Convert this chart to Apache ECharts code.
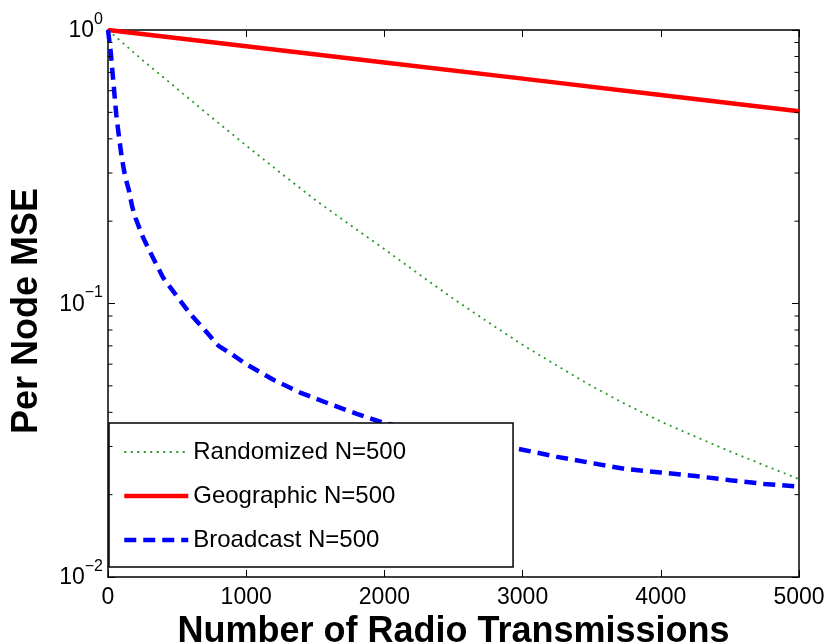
<!DOCTYPE html>
<html>
<head>
<meta charset="utf-8">
<script src="https://cdn.jsdelivr.net/npm/echarts@6/dist/echarts.min.js"></script>
<style>
  html, body { margin: 0; padding: 0; background: #ffffff; }
  #chart { width: 830px; height: 644px; }
</style>
</head>
<body>
<div id="chart"></div>
<script>
// Axis ticks
const xTicks = [0, 1000, 2000, 3000, 4000, 5000];
const yDecades = [0.01, 0.1, 1];

// Series names
const seriesNames = ['Randomized N=500', 'Geographic N=500', 'Broadcast N=500'];

// Randomized gossip: per-node MSE vs number of radio transmissions
const xRandomized = [0, 250, 500, 750, 1000, 1250, 1500, 1750, 2000, 2250, 2500,
                     2750, 3000, 3250, 3500, 3750, 4000, 4250, 4500, 4750, 5000];
const randomized = [1.0, 0.776, 0.61, 0.479, 0.378, 0.30, 0.239, 0.194, 0.158, 0.128, 0.104,
                    0.0855, 0.0706, 0.0592, 0.0499, 0.0427, 0.0370, 0.0326, 0.0288, 0.0256, 0.0228];

// Geographic gossip
const xGeographic = [0, 1000, 2000, 3000, 4000, 5000];
const geographic = [1.0, 0.872, 0.761, 0.664, 0.579, 0.505];

// Broadcast gossip
const xBroadcast = [0, 20, 40, 60, 80, 100, 125, 150, 175, 200, 250, 300, 350, 400, 500,
                    600, 700, 800, 900, 1000, 1200, 1400, 1600, 1800, 2000, 2250, 2500,
                    2750, 3000, 3250, 3500, 3750, 4000, 4250, 4500, 4750, 5000];
const broadcast = [1.0, 0.83, 0.635, 0.49, 0.405, 0.34, 0.29, 0.261, 0.226, 0.205, 0.176,
                   0.156, 0.139, 0.124, 0.106, 0.091, 0.080, 0.070, 0.065, 0.060, 0.0525,
                   0.047, 0.043, 0.0395, 0.0365, 0.0345, 0.0325, 0.031, 0.0292, 0.0275,
                   0.0261, 0.0248, 0.0241, 0.0234, 0.0226, 0.0219, 0.0214];

const FONT = '"Liberation Sans", Arial, Helvetica, sans-serif';
const pairs = (xs, ys) => xs.map((x, i) => [x, ys[i]]);

const chart = echarts.init(document.getElementById('chart'), null, { renderer: 'canvas' });

const axisLine = { show: true, onZero: false, lineStyle: { color: '#000', width: 1.5 } };
const tickIn = { show: true, inside: true, length: 7, lineStyle: { color: '#000', width: 1 } };

const option = {
  animation: false,
  backgroundColor: '#ffffff',
  grid: { left: 108, right: 31, top: 30, bottom: 67, containLabel: false, outerBoundsMode: 'none' },
  xAxis: [
    {
      type: 'value', min: 0, max: 5000, interval: 1000, position: 'bottom',
      axisLine, axisTick: tickIn, splitLine: { show: false },
      axisLabel: { fontSize: 23, color: '#000', fontFamily: FONT, margin: 9, formatter: (v) => String(v) },
      name: 'Number of Radio Transmissions', nameLocation: 'middle', nameGap: 32,
      nameTextStyle: { fontSize: 36, fontWeight: 'bold', color: '#000', fontFamily: FONT }
    },
    {
      type: 'value', min: 0, max: 5000, interval: 1000, position: 'top',
      axisLine, axisTick: tickIn, splitLine: { show: false },
      axisLabel: { show: false }
    }
  ],
  yAxis: [
    {
      type: 'log', logBase: 10, min: 0.01, max: 1, position: 'left',
      axisLine, axisTick: tickIn, splitLine: { show: false }, minorTick: { show: false },
      axisLabel: {
        margin: 5,
        padding: [0, 0, 6, 0],
        formatter: (v) => {
          const e = Math.round(Math.log10(v));
          return '{b|10}{s|' + (e < 0 ? '\u2212' + (-e) : e) + '}';
        },
        rich: {
          b: { fontSize: 23, color: '#000', fontFamily: FONT, verticalAlign: 'bottom', padding: [8, 0, 0, 0] },
          s: { fontSize: 16, color: '#000', fontFamily: FONT, verticalAlign: 'top', padding: [0, 0, 15, 0] }
        }
      },
      name: 'Per Node MSE', nameLocation: 'middle', nameGap: 63,
      nameTextStyle: { fontSize: 36, fontWeight: 'bold', color: '#000', fontFamily: FONT, padding: [0, 15, 0, 0] }
    },
    {
      type: 'log', logBase: 10, min: 0.01, max: 1, position: 'right',
      axisLine, axisTick: tickIn, splitLine: { show: false },
      axisLabel: { show: false }
    }
  ],
  legend: {
    orient: 'vertical', left: 109, top: 423,
    data: seriesNames,
    itemWidth: 64, itemHeight: 20, itemGap: 14,
    padding: [14, 107, 12, 13],
    borderColor: '#000', borderWidth: 1.5, backgroundColor: '#ffffff',
    itemStyle: { opacity: 0 },
    lineStyle: { width: 'inherit', type: 'inherit' },
    textStyle: { fontSize: 24, color: '#000', fontFamily: FONT, lineHeight: 30 },
    selectedMode: false
  },
  series: [
    {
      name: seriesNames[0], type: 'line', symbol: 'none', showSymbol: false,
      data: pairs(xRandomized, randomized), z: 3,
      lineStyle: { color: '#289a28', width: 1.8, type: [2, 4.5] },
      itemStyle: { color: '#289a28' }
    },
    {
      name: seriesNames[1], type: 'line', symbol: 'none', showSymbol: false,
      data: pairs(xGeographic, geographic), z: 3,
      lineStyle: { color: '#ff0000', width: 4.5, type: 'solid' },
      itemStyle: { color: '#ff0000' }
    },
    {
      name: seriesNames[2], type: 'line', symbol: 'none', showSymbol: false,
      data: pairs(xBroadcast, broadcast), z: 3,
      lineStyle: { color: '#0000ff', width: 4.5, type: [12, 7] },
      itemStyle: { color: '#0000ff' }
    }
  ]
};

chart.setOption(option);

// Minor log ticks (2..9 per decade) on the left and right edges, placed through the axis scales
const minorLines = [];
const xl = chart.convertToPixel({ xAxisIndex: 0 }, xTicks[0]);
const xr = chart.convertToPixel({ xAxisIndex: 0 }, xTicks[xTicks.length - 1]);
for (let d = 0; d < yDecades.length - 1; d++) {
  for (let m = 2; m <= 9; m++) {
    const y = chart.convertToPixel({ yAxisIndex: 0 }, yDecades[d] * m);
    minorLines.push({ type: 'line', shape: { x1: xl, y1: y, x2: xl + 4.5, y2: y }, style: { stroke: '#000', lineWidth: 1 }, z: 5 });
    minorLines.push({ type: 'line', shape: { x1: xr, y1: y, x2: xr - 4.5, y2: y }, style: { stroke: '#000', lineWidth: 1 }, z: 5 });
  }
}
chart.setOption({ graphic: minorLines });
</script>
</body>
</html>
